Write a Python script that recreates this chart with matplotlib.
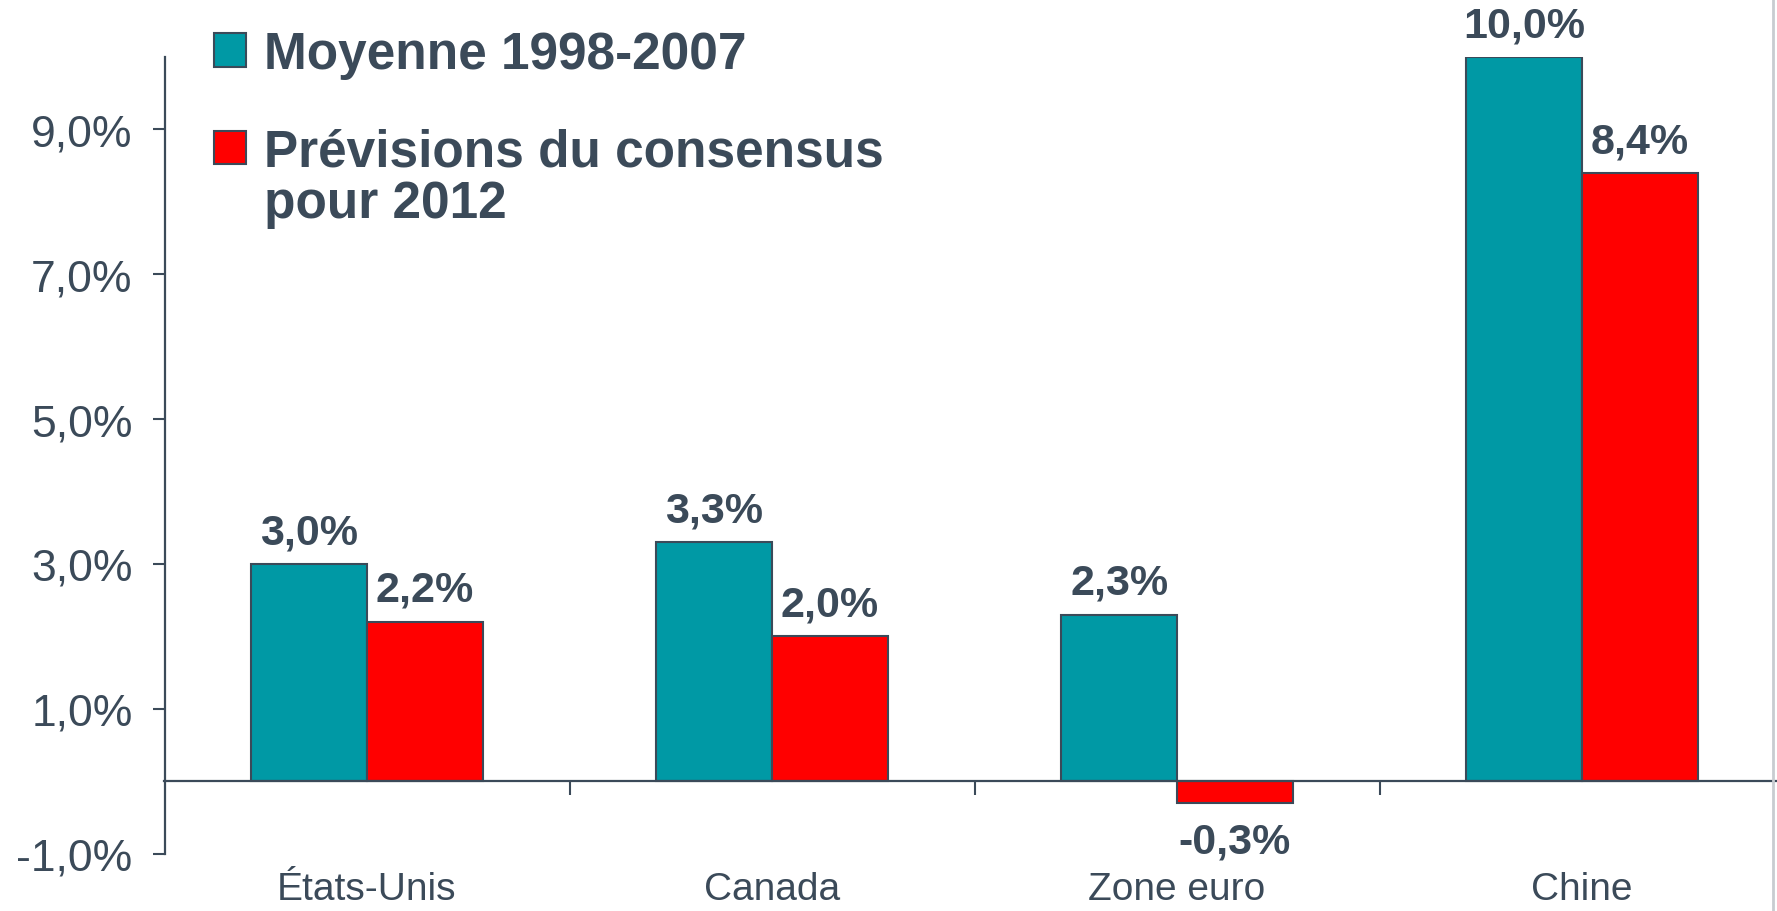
import numpy as np
import matplotlib.pyplot as plt
from matplotlib.lines import Line2D
from matplotlib.ticker import FixedLocator, FuncFormatter

# Data
categories = ['États-Unis', 'Canada', 'Zone euro', 'Chine']
moyenne = [3.0, 3.3, 2.3, 10.0]
previsions = [2.2, 2.0, -0.3, 8.4]
series_labels = ['Moyenne 1998-2007', 'Prévisions du consensus']
extra_line = 'pour 2012'
y_ticks = [-1, 1, 3, 5, 7, 9]

teal = '#0099A5'
red = '#FF0000'
dark = '#3B4A59'

plt.rcParams['font.family'] = ['Liberation Sans', 'DejaVu Sans']

fig = plt.figure(figsize=(17.77, 9.12), dpi=100)
ax = fig.add_axes([164.5 / 1777, 57.5 / 912, 1620 / 1777, 796.5 / 912])

x = np.arange(len(categories))
w = 0.286
b1 = ax.bar(x - w / 2, moyenne, w, color=teal, edgecolor=dark, linewidth=1.5, zorder=3)
b2 = ax.bar(x + w / 2, previsions, w, color=red, edgecolor=dark, linewidth=1.5, zorder=3)

ax.set_xlim(-0.5, len(categories) - 0.5)
ax.set_ylim(-1, 10)

# axes look
for s in ['top', 'right']:
    ax.spines[s].set_visible(False)
ax.spines['left'].set_color(dark)
ax.spines['left'].set_linewidth(1.6)
ax.spines['bottom'].set_position(('data', 0))
ax.spines['bottom'].set_color(dark)
ax.spines['bottom'].set_linewidth(1.6)
ax.spines['bottom'].set_zorder(4)

ax.yaxis.set_major_locator(FixedLocator(y_ticks))
ax.yaxis.set_major_formatter(FuncFormatter(lambda v, p: f'{v:.1f}%'.replace('.', ',')))
ax.tick_params(axis='y', direction='out', length=9, width=1.5, color=dark,
               labelsize=32, labelcolor=dark, pad=14)

ax.set_xticks([])
ax.xaxis.set_minor_locator(FixedLocator(x[:-1] + 0.5))
ax.tick_params(axis='x', which='minor', direction='out', length=10, width=1.5, color=dark)

# category labels under the plot
for xi, name in zip(x, categories):
    ax.annotate(name, (xi, 0), xycoords=('data', 'axes fraction'),
                xytext=(0, -33), textcoords='offset points',
                ha='center', va='baseline', fontsize=28, color=dark)

# value labels
def fmt(v):
    return f'{v:.1f}%'.replace('.', ',')

for bars, vals in [(b1, moyenne), (b2, previsions)]:
    for rect, v in zip(bars, vals):
        cx = rect.get_x() + rect.get_width() / 2
        off = 15 if v >= 0 else -36
        ax.annotate(fmt(v), (cx, v), xytext=(0, off), textcoords='offset points',
                    ha='center', va='baseline', fontsize=31, fontweight='bold',
                    color=dark)

# legend
leg = ax.legend([b1, b2], series_labels, loc='upper left',
                bbox_to_anchor=(214 / 1777, 1 - 31 / 912),
                bbox_transform=fig.transFigure, frameon=False,
                prop={'weight': 'bold', 'size': 37}, labelcolor=dark,
                handlelength=0.62, handleheight=0.62, handletextpad=0.35,
                labelspacing=0.95, borderpad=0, borderaxespad=0)

fig.text(264 / 1777, 1 - 205 / 912, extra_line, ha='left', va='center',
         fontsize=37, fontweight='bold', color=dark)

# slide border on the right
fig.add_artist(Line2D([1773 / 1777, 1773 / 1777], [0, 1], color='#C8CCD0',
                      linewidth=2, transform=fig.transFigure))

plt.savefig('out.png', dpi=100)
